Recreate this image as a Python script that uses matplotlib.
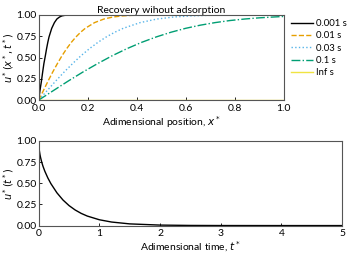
import matplotlib
matplotlib.use("Agg")
import matplotlib.pyplot as plt

plt.rcParams['font.family'] = ['Lato', 'DejaVu Sans']
plt.rcParams['font.size'] = 7.5
plt.rcParams['mathtext.fontset'] = 'dejavusans'

# recovery profiles u*(x*, t*)
x_001 = [0, 0.005, 0.011, 0.016, 0.021, 0.027, 0.032, 0.037, 0.042, 0.048, 0.053,
         0.064, 0.074, 0.085, 0.095, 0.106, 0.133, 0.2, 1.0]
u_001 = [0, 0.112, 0.223, 0.329, 0.428, 0.521, 0.604, 0.678, 0.742, 0.797, 0.843,
         0.910, 0.952, 0.976, 0.989, 0.995, 1.0, 1.0, 1.0]

x_01 = [0, 0.019, 0.038, 0.057, 0.076, 0.095, 0.114, 0.133, 0.152, 0.171, 0.19,
        0.228, 0.266, 0.304, 0.342, 0.38, 0.475, 0.6, 1.0]
u_01 = [0, 0.112, 0.223, 0.329, 0.428, 0.521, 0.604, 0.678, 0.742, 0.797, 0.843,
        0.910, 0.952, 0.976, 0.989, 0.995, 1.0, 1.0, 1.0]

x_03 = [0, 0.0345, 0.069, 0.1035, 0.138, 0.1725, 0.207, 0.2415, 0.276, 0.3105, 0.345,
        0.414, 0.483, 0.552, 0.621, 0.69, 0.8625, 1.0]
u_03 = [0, 0.112, 0.223, 0.329, 0.428, 0.521, 0.604, 0.678, 0.742, 0.797, 0.843,
        0.910, 0.952, 0.976, 0.989, 0.995, 1.0, 1.0]

x_1 = [0, 0.06, 0.12, 0.18, 0.24, 0.3, 0.36, 0.42, 0.48, 0.54, 0.6,
       0.66, 0.72, 0.78, 0.84, 0.9, 0.96, 1.0]
u_1 = [0, 0.112, 0.223, 0.329, 0.428, 0.521, 0.604, 0.678, 0.742, 0.797, 0.843,
       0.880, 0.910, 0.934, 0.952, 0.966, 0.976, 0.982]

x_inf = [0, 1.0]
u_inf = [0, 0]

# mean recovery u*(t*)
t_mean = [0, 0.002, 0.005, 0.01, 0.02, 0.03, 0.05, 0.07, 0.1, 0.15, 0.2, 0.3, 0.4, 0.5,
          0.6, 0.7, 0.8, 1.0, 1.2, 1.5, 2.0, 2.5, 3.0, 4.0, 5.0]
u_mean = [1.0, 0.95, 0.92, 0.887, 0.840, 0.805, 0.748, 0.701, 0.643, 0.563, 0.496, 0.387,
          0.302, 0.236, 0.1845, 0.144, 0.1126, 0.0687, 0.042, 0.020, 0.0058, 0.0017,
          0.0005, 0.00004, 0.0]

fig = plt.figure(figsize=(3.49, 2.62), dpi=100)
ax1 = fig.add_axes([0.111, 0.618, 0.702, 0.325])
ax2 = fig.add_axes([0.111, 0.139, 0.869, 0.323])

ax1.plot(x_001, u_001, '-', color='black', lw=1.0, label='0.001 s')
ax1.plot(x_01, u_01, '--', color='#E69F00', lw=1.0, label='0.01 s')
ax1.plot(x_03, u_03, ':', color='#56B4E9', lw=1.0, label='0.03 s')
ax1.plot(x_1, u_1, '-.', color='#009E73', lw=1.0, label='0.1 s')
ax1.plot(x_inf, u_inf, '-', color='#F0E442', lw=1.0, label='Inf s')
ax1.set_xlim(0, 1)
ax1.set_ylim(0, 1)
ax1.set_title('Recovery wihout adsorption', fontsize=7.5, pad=1)
ax1.set_xlabel('Adimensional position, $x^*$', labelpad=1)
ax1.set_ylabel('$u^*(x^*, t^*)$', labelpad=0, fontsize=7)
ax1.legend(loc='upper left', bbox_to_anchor=(1.03, 0.95), frameon=False,
           fontsize=6.8, handlelength=2.3, handletextpad=0.3, labelspacing=0.35,
           borderaxespad=0, borderpad=0)

ax2.plot(t_mean, u_mean, '-', color='black', lw=1.0)
ax2.set_xlim(0, 5)
ax2.set_ylim(0, 1)
ax2.set_xlabel('Adimensional time, $t^*$', labelpad=1)
ax2.set_ylabel('$u^*(t^*)$', labelpad=0, fontsize=7)

for ax in (ax1, ax2):
    ax.tick_params(direction='in', length=2, width=0.6, pad=1.5, labelsize=7.5)
    ax.tick_params(axis='x', pad=2.5)
    for s in ax.spines.values():
        s.set_color('#555555')
        s.set_linewidth(0.8)

fig.savefig('out.png', dpi=100)
